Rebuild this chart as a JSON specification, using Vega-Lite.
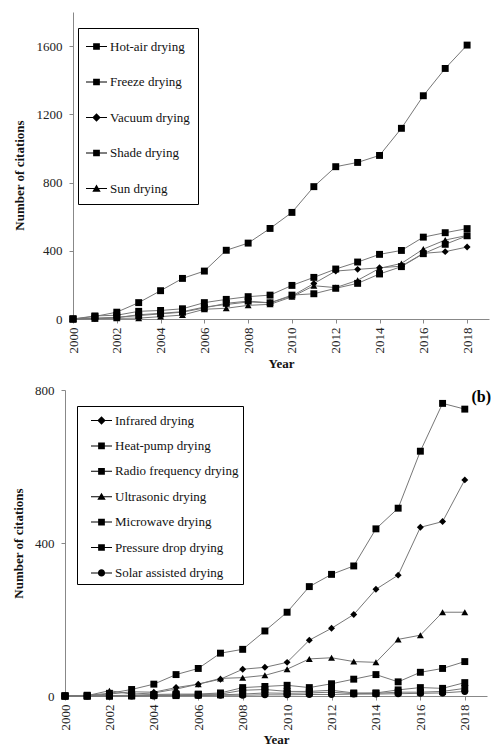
{
  "$schema": "https://vega.github.io/schema/vega-lite/v6.json",
  "padding": {"left": 12, "top": 12, "right": 0, "bottom": 0},
  "bounds": "flush",
  "spacing": 71,
  "config": {
    "view": {"stroke": null},
    "font": "Times New Roman, Liberation Serif, serif",
    "text": {"font": "Times New Roman, Liberation Serif, serif"},
    "axis": {
      "grid": false,
      "domainColor": "#888888",
      "tickColor": "#888888",
      "domainWidth": 1,
      "tickSize": 4,
      "labelFont": "Times New Roman, Liberation Serif, serif",
      "labelFontSize": 13,
      "labelColor": "#222222",
      "titleFont": "Times New Roman, Liberation Serif, serif",
      "titleFontSize": 13,
      "titleFontWeight": "bold",
      "titleColor": "#111111"
    },
    "legend": {
      "orient": "none",
      "title": null,
      "strokeColor": "#000000",
      "labelFont": "Times New Roman, Liberation Serif, serif",
      "labelFontSize": 13,
      "labelColor": "#111111",
      "labelOffset": 3,
      "symbolSize": 441,
      "symbolFillColor": "#000000",
      "symbolStrokeWidth": 0
    },
    "title": {"font": "Times New Roman, Liberation Serif, serif"}
  },
  "resolve": {
    "scale": {"shape": "independent", "x": "independent", "y": "independent"},
    "legend": {"shape": "independent"}
  },
  "datasets": {
    "a": [
      {"series": "Hot-air drying", "year": 2000, "count": 0},
      {"series": "Hot-air drying", "year": 2001, "count": 15},
      {"series": "Hot-air drying", "year": 2002, "count": 40},
      {"series": "Hot-air drying", "year": 2003, "count": 96},
      {"series": "Hot-air drying", "year": 2004, "count": 166},
      {"series": "Hot-air drying", "year": 2005, "count": 238},
      {"series": "Hot-air drying", "year": 2006, "count": 281},
      {"series": "Hot-air drying", "year": 2007, "count": 403},
      {"series": "Hot-air drying", "year": 2008, "count": 445},
      {"series": "Hot-air drying", "year": 2009, "count": 531},
      {"series": "Hot-air drying", "year": 2010, "count": 625},
      {"series": "Hot-air drying", "year": 2011, "count": 776},
      {"series": "Hot-air drying", "year": 2012, "count": 893},
      {"series": "Hot-air drying", "year": 2013, "count": 918},
      {"series": "Hot-air drying", "year": 2014, "count": 959},
      {"series": "Hot-air drying", "year": 2015, "count": 1118},
      {"series": "Hot-air drying", "year": 2016, "count": 1309},
      {"series": "Hot-air drying", "year": 2017, "count": 1469},
      {"series": "Hot-air drying", "year": 2018, "count": 1606},
      {"series": "Freeze drying", "year": 2000, "count": 0},
      {"series": "Freeze drying", "year": 2001, "count": 18},
      {"series": "Freeze drying", "year": 2002, "count": 22},
      {"series": "Freeze drying", "year": 2003, "count": 45},
      {"series": "Freeze drying", "year": 2004, "count": 50},
      {"series": "Freeze drying", "year": 2005, "count": 60},
      {"series": "Freeze drying", "year": 2006, "count": 96},
      {"series": "Freeze drying", "year": 2007, "count": 115},
      {"series": "Freeze drying", "year": 2008, "count": 131},
      {"series": "Freeze drying", "year": 2009, "count": 140},
      {"series": "Freeze drying", "year": 2010, "count": 197},
      {"series": "Freeze drying", "year": 2011, "count": 244},
      {"series": "Freeze drying", "year": 2012, "count": 293},
      {"series": "Freeze drying", "year": 2013, "count": 334},
      {"series": "Freeze drying", "year": 2014, "count": 379},
      {"series": "Freeze drying", "year": 2015, "count": 402},
      {"series": "Freeze drying", "year": 2016, "count": 480},
      {"series": "Freeze drying", "year": 2017, "count": 506},
      {"series": "Freeze drying", "year": 2018, "count": 530},
      {"series": "Vacuum drying", "year": 2000, "count": 0},
      {"series": "Vacuum drying", "year": 2001, "count": 3},
      {"series": "Vacuum drying", "year": 2002, "count": 8},
      {"series": "Vacuum drying", "year": 2003, "count": 25},
      {"series": "Vacuum drying", "year": 2004, "count": 33},
      {"series": "Vacuum drying", "year": 2005, "count": 43},
      {"series": "Vacuum drying", "year": 2006, "count": 70},
      {"series": "Vacuum drying", "year": 2007, "count": 85},
      {"series": "Vacuum drying", "year": 2008, "count": 100},
      {"series": "Vacuum drying", "year": 2009, "count": 95},
      {"series": "Vacuum drying", "year": 2010, "count": 135},
      {"series": "Vacuum drying", "year": 2011, "count": 208},
      {"series": "Vacuum drying", "year": 2012, "count": 281},
      {"series": "Vacuum drying", "year": 2013, "count": 291},
      {"series": "Vacuum drying", "year": 2014, "count": 300},
      {"series": "Vacuum drying", "year": 2015, "count": 310},
      {"series": "Vacuum drying", "year": 2016, "count": 385},
      {"series": "Vacuum drying", "year": 2017, "count": 395},
      {"series": "Vacuum drying", "year": 2018, "count": 422},
      {"series": "Shade drying", "year": 2000, "count": 0},
      {"series": "Shade drying", "year": 2001, "count": 5},
      {"series": "Shade drying", "year": 2002, "count": 10},
      {"series": "Shade drying", "year": 2003, "count": 20},
      {"series": "Shade drying", "year": 2004, "count": 30},
      {"series": "Shade drying", "year": 2005, "count": 40},
      {"series": "Shade drying", "year": 2006, "count": 65},
      {"series": "Shade drying", "year": 2007, "count": 92},
      {"series": "Shade drying", "year": 2008, "count": 105},
      {"series": "Shade drying", "year": 2009, "count": 95},
      {"series": "Shade drying", "year": 2010, "count": 140},
      {"series": "Shade drying", "year": 2011, "count": 148},
      {"series": "Shade drying", "year": 2012, "count": 180},
      {"series": "Shade drying", "year": 2013, "count": 209},
      {"series": "Shade drying", "year": 2014, "count": 264},
      {"series": "Shade drying", "year": 2015, "count": 307},
      {"series": "Shade drying", "year": 2016, "count": 383},
      {"series": "Shade drying", "year": 2017, "count": 438},
      {"series": "Shade drying", "year": 2018, "count": 488},
      {"series": "Sun drying", "year": 2000, "count": 0},
      {"series": "Sun drying", "year": 2001, "count": 2},
      {"series": "Sun drying", "year": 2002, "count": 4},
      {"series": "Sun drying", "year": 2003, "count": 5},
      {"series": "Sun drying", "year": 2004, "count": 14},
      {"series": "Sun drying", "year": 2005, "count": 23},
      {"series": "Sun drying", "year": 2006, "count": 57},
      {"series": "Sun drying", "year": 2007, "count": 63},
      {"series": "Sun drying", "year": 2008, "count": 80},
      {"series": "Sun drying", "year": 2009, "count": 86},
      {"series": "Sun drying", "year": 2010, "count": 130},
      {"series": "Sun drying", "year": 2011, "count": 195},
      {"series": "Sun drying", "year": 2012, "count": 184},
      {"series": "Sun drying", "year": 2013, "count": 227},
      {"series": "Sun drying", "year": 2014, "count": 297},
      {"series": "Sun drying", "year": 2015, "count": 326},
      {"series": "Sun drying", "year": 2016, "count": 410},
      {"series": "Sun drying", "year": 2017, "count": 463},
      {"series": "Sun drying", "year": 2018, "count": 490}
    ],
    "b": [
      {"series": "Infrared drying", "year": 2000, "count": 0},
      {"series": "Infrared drying", "year": 2001, "count": 1},
      {"series": "Infrared drying", "year": 2002, "count": 5},
      {"series": "Infrared drying", "year": 2003, "count": 11},
      {"series": "Infrared drying", "year": 2004, "count": 10},
      {"series": "Infrared drying", "year": 2005, "count": 22},
      {"series": "Infrared drying", "year": 2006, "count": 31},
      {"series": "Infrared drying", "year": 2007, "count": 44},
      {"series": "Infrared drying", "year": 2008, "count": 70},
      {"series": "Infrared drying", "year": 2009, "count": 75},
      {"series": "Infrared drying", "year": 2010, "count": 88},
      {"series": "Infrared drying", "year": 2011, "count": 146},
      {"series": "Infrared drying", "year": 2012, "count": 177},
      {"series": "Infrared drying", "year": 2013, "count": 213},
      {"series": "Infrared drying", "year": 2014, "count": 279},
      {"series": "Infrared drying", "year": 2015, "count": 316},
      {"series": "Infrared drying", "year": 2016, "count": 441},
      {"series": "Infrared drying", "year": 2017, "count": 456},
      {"series": "Infrared drying", "year": 2018, "count": 565},
      {"series": "Heat-pump drying", "year": 2000, "count": 0},
      {"series": "Heat-pump drying", "year": 2001, "count": 0},
      {"series": "Heat-pump drying", "year": 2002, "count": 1},
      {"series": "Heat-pump drying", "year": 2003, "count": 2},
      {"series": "Heat-pump drying", "year": 2004, "count": 4},
      {"series": "Heat-pump drying", "year": 2005, "count": 5},
      {"series": "Heat-pump drying", "year": 2006, "count": 5},
      {"series": "Heat-pump drying", "year": 2007, "count": 8},
      {"series": "Heat-pump drying", "year": 2008, "count": 22},
      {"series": "Heat-pump drying", "year": 2009, "count": 25},
      {"series": "Heat-pump drying", "year": 2010, "count": 28},
      {"series": "Heat-pump drying", "year": 2011, "count": 22},
      {"series": "Heat-pump drying", "year": 2012, "count": 32},
      {"series": "Heat-pump drying", "year": 2013, "count": 44},
      {"series": "Heat-pump drying", "year": 2014, "count": 56},
      {"series": "Heat-pump drying", "year": 2015, "count": 37},
      {"series": "Heat-pump drying", "year": 2016, "count": 62},
      {"series": "Heat-pump drying", "year": 2017, "count": 72},
      {"series": "Heat-pump drying", "year": 2018, "count": 90},
      {"series": "Radio frequency drying", "year": 2000, "count": 0},
      {"series": "Radio frequency drying", "year": 2001, "count": 0},
      {"series": "Radio frequency drying", "year": 2002, "count": 0},
      {"series": "Radio frequency drying", "year": 2003, "count": 1},
      {"series": "Radio frequency drying", "year": 2004, "count": 2},
      {"series": "Radio frequency drying", "year": 2005, "count": 3},
      {"series": "Radio frequency drying", "year": 2006, "count": 4},
      {"series": "Radio frequency drying", "year": 2007, "count": 5},
      {"series": "Radio frequency drying", "year": 2008, "count": 15},
      {"series": "Radio frequency drying", "year": 2009, "count": 17},
      {"series": "Radio frequency drying", "year": 2010, "count": 12},
      {"series": "Radio frequency drying", "year": 2011, "count": 12},
      {"series": "Radio frequency drying", "year": 2012, "count": 15},
      {"series": "Radio frequency drying", "year": 2013, "count": 8},
      {"series": "Radio frequency drying", "year": 2014, "count": 8},
      {"series": "Radio frequency drying", "year": 2015, "count": 16},
      {"series": "Radio frequency drying", "year": 2016, "count": 22},
      {"series": "Radio frequency drying", "year": 2017, "count": 20},
      {"series": "Radio frequency drying", "year": 2018, "count": 35},
      {"series": "Ultrasonic drying", "year": 2000, "count": 0},
      {"series": "Ultrasonic drying", "year": 2001, "count": 1},
      {"series": "Ultrasonic drying", "year": 2002, "count": 14},
      {"series": "Ultrasonic drying", "year": 2003, "count": 5},
      {"series": "Ultrasonic drying", "year": 2004, "count": 8},
      {"series": "Ultrasonic drying", "year": 2005, "count": 18},
      {"series": "Ultrasonic drying", "year": 2006, "count": 31},
      {"series": "Ultrasonic drying", "year": 2007, "count": 46},
      {"series": "Ultrasonic drying", "year": 2008, "count": 48},
      {"series": "Ultrasonic drying", "year": 2009, "count": 54},
      {"series": "Ultrasonic drying", "year": 2010, "count": 70},
      {"series": "Ultrasonic drying", "year": 2011, "count": 97},
      {"series": "Ultrasonic drying", "year": 2012, "count": 100},
      {"series": "Ultrasonic drying", "year": 2013, "count": 90},
      {"series": "Ultrasonic drying", "year": 2014, "count": 88},
      {"series": "Ultrasonic drying", "year": 2015, "count": 148},
      {"series": "Ultrasonic drying", "year": 2016, "count": 159},
      {"series": "Ultrasonic drying", "year": 2017, "count": 219},
      {"series": "Ultrasonic drying", "year": 2018, "count": 219},
      {"series": "Microwave drying", "year": 2000, "count": 0},
      {"series": "Microwave drying", "year": 2001, "count": 2},
      {"series": "Microwave drying", "year": 2002, "count": 7},
      {"series": "Microwave drying", "year": 2003, "count": 17},
      {"series": "Microwave drying", "year": 2004, "count": 31},
      {"series": "Microwave drying", "year": 2005, "count": 56},
      {"series": "Microwave drying", "year": 2006, "count": 72},
      {"series": "Microwave drying", "year": 2007, "count": 112},
      {"series": "Microwave drying", "year": 2008, "count": 122},
      {"series": "Microwave drying", "year": 2009, "count": 170},
      {"series": "Microwave drying", "year": 2010, "count": 219},
      {"series": "Microwave drying", "year": 2011, "count": 286},
      {"series": "Microwave drying", "year": 2012, "count": 318},
      {"series": "Microwave drying", "year": 2013, "count": 340},
      {"series": "Microwave drying", "year": 2014, "count": 437},
      {"series": "Microwave drying", "year": 2015, "count": 491},
      {"series": "Microwave drying", "year": 2016, "count": 640},
      {"series": "Microwave drying", "year": 2017, "count": 765},
      {"series": "Microwave drying", "year": 2018, "count": 750},
      {"series": "Pressure drop drying", "year": 2000, "count": 0},
      {"series": "Pressure drop drying", "year": 2001, "count": 0},
      {"series": "Pressure drop drying", "year": 2002, "count": 0},
      {"series": "Pressure drop drying", "year": 2003, "count": 0},
      {"series": "Pressure drop drying", "year": 2004, "count": 1},
      {"series": "Pressure drop drying", "year": 2005, "count": 1},
      {"series": "Pressure drop drying", "year": 2006, "count": 2},
      {"series": "Pressure drop drying", "year": 2007, "count": 3},
      {"series": "Pressure drop drying", "year": 2008, "count": 5},
      {"series": "Pressure drop drying", "year": 2009, "count": 8},
      {"series": "Pressure drop drying", "year": 2010, "count": 7},
      {"series": "Pressure drop drying", "year": 2011, "count": 8},
      {"series": "Pressure drop drying", "year": 2012, "count": 10},
      {"series": "Pressure drop drying", "year": 2013, "count": 6},
      {"series": "Pressure drop drying", "year": 2014, "count": 7},
      {"series": "Pressure drop drying", "year": 2015, "count": 10},
      {"series": "Pressure drop drying", "year": 2016, "count": 10},
      {"series": "Pressure drop drying", "year": 2017, "count": 12},
      {"series": "Pressure drop drying", "year": 2018, "count": 20},
      {"series": "Solar assisted drying", "year": 2000, "count": 0},
      {"series": "Solar assisted drying", "year": 2001, "count": 0},
      {"series": "Solar assisted drying", "year": 2002, "count": 0},
      {"series": "Solar assisted drying", "year": 2003, "count": 0},
      {"series": "Solar assisted drying", "year": 2004, "count": 0},
      {"series": "Solar assisted drying", "year": 2005, "count": 1},
      {"series": "Solar assisted drying", "year": 2006, "count": 1},
      {"series": "Solar assisted drying", "year": 2007, "count": 2},
      {"series": "Solar assisted drying", "year": 2008, "count": 2},
      {"series": "Solar assisted drying", "year": 2009, "count": 3},
      {"series": "Solar assisted drying", "year": 2010, "count": 3},
      {"series": "Solar assisted drying", "year": 2011, "count": 4},
      {"series": "Solar assisted drying", "year": 2012, "count": 4},
      {"series": "Solar assisted drying", "year": 2013, "count": 5},
      {"series": "Solar assisted drying", "year": 2014, "count": 5},
      {"series": "Solar assisted drying", "year": 2015, "count": 6},
      {"series": "Solar assisted drying", "year": 2016, "count": 7},
      {"series": "Solar assisted drying", "year": 2017, "count": 8},
      {"series": "Solar assisted drying", "year": 2018, "count": 12}
    ]
  },
  "vconcat": [
    {
      "width": 424,
      "height": 307,
      "data": {"name": "a"},
      "resolve": {"scale": {"shape": "independent"}, "legend": {"shape": "independent"}},
      "encoding": {
        "x": {
          "field": "year",
          "type": "quantitative",
          "scale": {"domain": [2000, 2019], "range": [8, 424], "nice": false, "zero": false},
          "axis": {"values": [2000, 2002, 2004, 2006, 2008, 2010, 2012, 2014, 2016, 2018], "format": "d", "labelAngle": 270, "labelPadding": 4, "title": "Year", "titlePadding": 4}
        },
        "y": {
          "field": "count",
          "type": "quantitative",
          "scale": {"domain": [0, 1800], "nice": false},
          "axis": {"values": [0, 400, 800, 1200, 1600], "format": "d", "offset": -8, "labelPadding": 7, "title": "Number of citations", "titlePadding": 10, "titleY": 163}
        }
      },
      "layer": [
        {
          "mark": {"type": "line", "color": "#777777", "strokeWidth": 1},
          "encoding": {"detail": {"field": "series"}}
        },
        {
          "mark": {"type": "point", "filled": true, "color": "#000000", "size": 48, "opacity": 1},
          "encoding": {
            "shape": {
              "field": "series",
              "scale": {
                "domain": ["Hot-air drying", "Freeze drying", "Vacuum drying", "Shade drying", "Sun drying"],
                "range": ["square", "square", "diamond", "square", "triangle-up"]
              },
              "legend": null
            }
          }
        },
        {
          "mark": {"type": "point", "filled": true, "color": "#000000", "size": 441, "opacity": 0},
          "encoding": {
            "shape": {
              "field": "series",
              "scale": {
                "domain": ["Hot-air drying", "Freeze drying", "Vacuum drying", "Shade drying", "Sun drying"],
                "range": [
                  "M-1,-0.05H1V0.05H-1ZM-0.32,-0.32H0.32V0.32H-0.32Z",
                  "M-1,-0.05H1V0.05H-1ZM-0.32,-0.32H0.32V0.32H-0.32Z",
                  "M-1,-0.05H1V0.05H-1ZM0,-0.4L0.4,0L0,0.4L-0.4,0Z",
                  "M-1,-0.05H1V0.05H-1ZM-0.32,-0.32H0.32V0.32H-0.32Z",
                  "M-1,-0.05H1V0.05H-1ZM0,-0.38L0.4,0.3L-0.4,0.3Z"
                ]
              },
              "legend": {
                "legendX": 13,
                "legendY": 16,
                "padding": 8,
                "rowPadding": 17.5,
                "symbolSize": 441,
                "encode": {"symbols": {"update": {"opacity": {"value": 1}, "fill": {"value": "#000000"}, "size": {"value": 441}}}}
              }
            }
          }
        }
      ]
    },
    {
      "width": 422,
      "height": 306,
      "data": {"name": "b"},
      "title": {"text": "(b)", "orient": "top", "anchor": "end", "frame": "group", "baseline": "top", "offset": -1, "dx": 4, "dy": 20, "fontSize": 16, "fontWeight": "bold", "color": "#000000"},
      "resolve": {"scale": {"shape": "independent"}, "legend": {"shape": "independent"}},
      "encoding": {
        "x": {
          "field": "year",
          "type": "quantitative",
          "scale": {"domain": [2000, 2019], "nice": false, "zero": false},
          "axis": {"values": [2000, 2002, 2004, 2006, 2008, 2010, 2012, 2014, 2016, 2018], "format": "d", "labelAngle": 270, "labelPadding": 4, "title": "Year", "titlePadding": 3}
        },
        "y": {
          "field": "count",
          "type": "quantitative",
          "scale": {"domain": [0, 800], "nice": false},
          "axis": {"values": [0, 400, 800], "format": "d", "labelPadding": 7, "title": "Number of citations", "titlePadding": 9}
        }
      },
      "layer": [
        {
          "mark": {"type": "line", "color": "#777777", "strokeWidth": 1},
          "encoding": {"detail": {"field": "series"}}
        },
        {
          "mark": {"type": "point", "filled": true, "color": "#000000", "size": 48, "opacity": 1},
          "encoding": {
            "shape": {
              "field": "series",
              "scale": {
                "domain": ["Infrared drying", "Heat-pump drying", "Radio frequency drying", "Ultrasonic drying", "Microwave drying", "Pressure drop drying", "Solar assisted drying"],
                "range": ["diamond", "square", "square", "triangle-up", "square", "square", "circle"]
              },
              "legend": null
            }
          }
        },
        {
          "mark": {"type": "point", "filled": true, "color": "#000000", "size": 441, "opacity": 0},
          "encoding": {
            "shape": {
              "field": "series",
              "scale": {
                "domain": ["Infrared drying", "Heat-pump drying", "Radio frequency drying", "Ultrasonic drying", "Microwave drying", "Pressure drop drying", "Solar assisted drying"],
                "range": [
                  "M-1,-0.05H1V0.05H-1ZM0,-0.4L0.4,0L0,0.4L-0.4,0Z",
                  "M-1,-0.05H1V0.05H-1ZM-0.32,-0.32H0.32V0.32H-0.32Z",
                  "M-1,-0.05H1V0.05H-1ZM-0.32,-0.32H0.32V0.32H-0.32Z",
                  "M-1,-0.05H1V0.05H-1ZM0,-0.38L0.4,0.3L-0.4,0.3Z",
                  "M-1,-0.05H1V0.05H-1ZM-0.32,-0.32H0.32V0.32H-0.32Z",
                  "M-1,-0.05H1V0.05H-1ZM-0.32,-0.32H0.32V0.32H-0.32Z",
                  "M-1,-0.05H1V0.05H-1ZM0.34,0A0.34,0.34,0,1,1,-0.34,0A0.34,0.34,0,1,1,0.34,0Z"
                ]
              },
              "legend": {
                "legendX": 12,
                "legendY": 16,
                "padding": 4,
                "rowPadding": 7.4,
                "symbolOffset": 10,
                "symbolSize": 441,
                "encode": {"symbols": {"update": {"opacity": {"value": 1}, "fill": {"value": "#000000"}, "size": {"value": 441}}}}
              }
            }
          }
        }
      ]
    }
  ]
}
